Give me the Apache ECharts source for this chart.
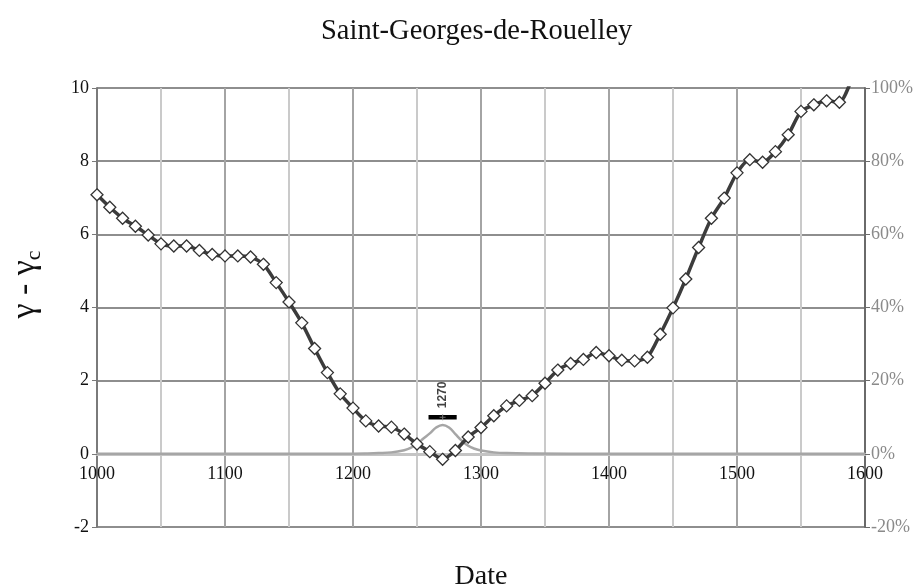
<!DOCTYPE html>
<html>
<head>
<meta charset="utf-8">
<script src="https://cdn.jsdelivr.net/npm/echarts@6/dist/echarts.min.js"></script>
<style>
  html, body { margin: 0; padding: 0; background: #fff; }
  #main { width: 920px; height: 588px; }
</style>
</head>
<body>
<div id="main"></div>
<script>
// gamma - gamma_c every 10 years (first and last points fall just outside the plot)
var years = [990, 1000, 1010, 1020, 1030, 1040, 1050, 1060, 1070, 1080, 1090,
    1100, 1110, 1120, 1130, 1140, 1150, 1160, 1170, 1180, 1190,
    1200, 1210, 1220, 1230, 1240, 1250, 1260, 1270, 1280, 1290,
    1300, 1310, 1320, 1330, 1340, 1350, 1360, 1370, 1380, 1390,
    1400, 1410, 1420, 1430, 1440, 1450, 1460, 1470, 1480, 1490,
    1500, 1510, 1520, 1530, 1540, 1550, 1560, 1570, 1580, 1590];
var gammaVals = [7.42, 7.08, 6.74, 6.44, 6.22, 5.98, 5.74, 5.68, 5.68, 5.56, 5.45,
    5.41, 5.41, 5.38, 5.18, 4.68, 4.15, 3.58, 2.88, 2.22, 1.64,
    1.25, 0.90, 0.76, 0.73, 0.54, 0.27, 0.06, -0.15, 0.09, 0.46,
    0.72, 1.04, 1.31, 1.46, 1.59, 1.93, 2.29, 2.47, 2.58, 2.77,
    2.68, 2.56, 2.54, 2.64, 3.27, 3.99, 4.78, 5.64, 6.44, 6.99,
    7.68, 8.04, 7.97, 8.26, 8.72, 9.36, 9.54, 9.65, 9.61, 10.3];

// probability curve (right axis, %)
var probYears = [1000, 1100, 1200, 1210, 1220, 1230, 1240, 1245, 1250, 1255, 1260,
    1265, 1270, 1275, 1280, 1285, 1290, 1295, 1300, 1310, 1320, 1340, 1400, 1500, 1600];
var probVals = [0, 0, 0.05, 0.1, 0.2, 0.4, 1.0, 1.6, 2.7, 4.2, 5.6,
    7.2, 7.9, 7.2, 5.4, 3.6, 2.2, 1.4, 0.9, 0.4, 0.2, 0.1, 0, 0, 0];

// dating result: 1270 with its interval
var bestYear = 1270;
var rangeYears = [1259, 1281];
var rangeLevel = 1.0;

var leftTicks = [-2, 0, 2, 4, 6, 8, 10];
var rightTicks = [-20, 0, 20, 40, 60, 80, 100];

var serif = '"Liberation Serif", "Times New Roman", serif';

function pairs(xs, ys) {
    var out = [];
    for (var i = 0; i < xs.length; i++) out.push([xs[i], ys[i]]);
    return out;
}

var myChart = echarts.init(document.getElementById('main'));

// grid is 439px tall for 12 units, so the zero line sits 2 units above the bottom
var gridTop = 88, gridBottom = 61, gridH = 588 - gridTop - gridBottom;
var zeroOffset = -gridH * 2 / 12;

var option = {
    animation: false,
    backgroundColor: '#fff',
    title: {
        text: 'Saint-Georges-de-Rouelley',
        left: 321,
        top: 17,
        padding: 0,
        textStyle: { fontFamily: serif, fontSize: 28.5, fontWeight: 'normal', color: '#111' }
    },
    grid: { left: 97, right: 55, top: gridTop, bottom: gridBottom, outerBoundsMode: 'none', containLabel: false },
    xAxis: {
        type: 'value',
        min: 1000,
        max: 1600,
        interval: 50,
        offset: zeroOffset,
        name: 'Date',
        nameLocation: 'middle',
        nameGap: 109 - zeroOffset - 73,
        nameTextStyle: { fontFamily: serif, fontSize: 28, color: '#111' },
        axisLine: { onZero: false, lineStyle: { color: '#c4c4c4', width: 3 } },
        axisTick: { show: false },
        axisLabel: {
            fontFamily: serif, fontSize: 18, color: '#111', margin: 11,
            formatter: function (v) { return v % 100 === 0 ? String(v) : ''; }
        },
        splitLine: { show: true, lineStyle: { color: ['#a4a4a4', '#cacaca'], width: 2 } }
    },
    yAxis: [{
        type: 'value',
        min: leftTicks[0],
        max: leftTicks[leftTicks.length - 1],
        interval: 2,
        name: '{g|γ - γ}{s|c}',
        nameLocation: 'middle',
        nameGap: 52,
        nameTextStyle: {
            padding: [0, 0, 0, 46],
            rich: {
                g: { fontFamily: serif, fontSize: 34, color: '#111', lineHeight: 40 },
                s: { fontFamily: serif, fontSize: 22, color: '#111', lineHeight: 40, verticalAlign: 'bottom', padding: [14, 0, 0, 0] }
            }
        },
        axisLine: { show: true, lineStyle: { color: '#7a7a7a', width: 2 } },
        axisTick: { show: true, length: 5, lineStyle: { color: '#7a7a7a' } },
        axisLabel: { fontFamily: serif, fontSize: 18, color: '#111', margin: 8 },
        splitLine: { show: true, lineStyle: { color: '#8e8e8e', width: 2 } }
    }, {
        type: 'value',
        position: 'right',
        min: rightTicks[0],
        max: rightTicks[rightTicks.length - 1],
        interval: 20,
        axisLine: { show: true, lineStyle: { color: '#6a6a6a', width: 2 } },
        axisTick: { show: true, length: 5, lineStyle: { color: '#6a6a6a' } },
        axisLabel: { fontFamily: serif, fontSize: 18, color: '#8a8a8a', margin: 6, formatter: '{value}%' },
        splitLine: { show: false }
    }],
    series: [{
        name: 'prob',
        type: 'line',
        yAxisIndex: 1,
        data: pairs(probYears, probVals),
        smooth: 0.4,
        symbol: 'none',
        lineStyle: { color: '#a6a6a6', width: 2.5 },
        z: 3
    }, {
        name: 'gamma',
        type: 'line',
        data: pairs(years, gammaVals),
        smooth: 0.25,
        clip: true,
        symbol: 'diamond',
        symbolSize: 12,
        itemStyle: { color: '#fff', borderColor: '#333', borderWidth: 1.3 },
        lineStyle: { color: '#3c3c3c', width: 3.5 },
        z: 4
    }, {
        name: 'range',
        type: 'line',
        data: pairs(rangeYears, [rangeLevel, rangeLevel]),
        symbol: 'none',
        lineStyle: { color: '#000', width: 4.5 },
        z: 5
    }, {
        name: 'best',
        type: 'scatter',
        data: [[bestYear, rangeLevel]],
        symbol: 'path://M4,0 L6,0 L6,4 L10,4 L10,6 L6,6 L6,10 L4,10 L4,6 L0,6 L0,4 L4,4 Z',
        symbolSize: 6,
        itemStyle: { color: '#888' },
        label: {
            show: true,
            formatter: String(bestYear),
            position: 'top',
            distance: 6,
            rotate: 90,
            align: 'left',
            verticalAlign: 'middle',
            fontFamily: '"Liberation Sans", Arial, sans-serif',
            fontWeight: 'bold',
            fontSize: 12,
            color: '#111'
        },
        z: 6
    }]
};

myChart.setOption(option);
</script>
</body>
</html>
